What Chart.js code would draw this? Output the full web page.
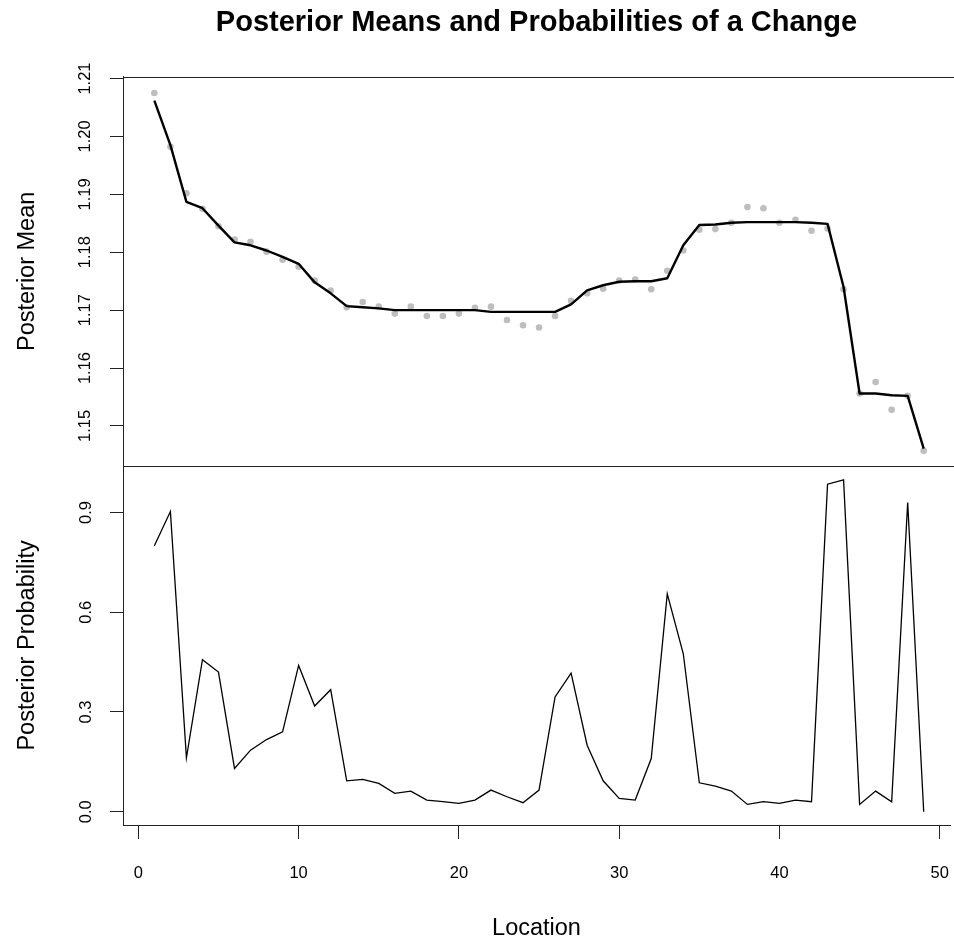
<!DOCTYPE html>
<html>
<head>
<meta charset="utf-8">
<script src="https://cdn.jsdelivr.net/npm/chart.js@4.4.1/dist/chart.umd.min.js"></script>
<style>
    html, body { margin: 0; padding: 0; background: #fff; overflow: hidden; }
    #chart { display: block; width: 954px; height: 941px; }
</style>
</head>
<body>
<canvas id="chart" width="954" height="941"></canvas>
<script>
const locations = [1, 2, 3, 4, 5, 6, 7, 8, 9, 10, 11, 12, 13, 14, 15, 16, 17, 18, 19, 20,
    21, 22, 23, 24, 25, 26, 27, 28, 29, 30, 31, 32, 33, 34, 35, 36, 37, 38, 39, 40,
    41, 42, 43, 44, 45, 46, 47, 48, 49];

// observed data (grey dots)
const observed = [1.2075, 1.1982, 1.1902, 1.1875, 1.1845, 1.1822, 1.1818, 1.1801, 1.1787, 1.1775,
    1.1751, 1.1734, 1.1705, 1.1714, 1.1706, 1.1694, 1.1706, 1.1690, 1.1690, 1.1694,
    1.1704, 1.1706, 1.1683, 1.1674, 1.1670, 1.1690, 1.1716, 1.1729, 1.1737, 1.1751,
    1.1753, 1.1736, 1.1768, 1.1803, 1.1839, 1.1840, 1.1851, 1.1878, 1.1876, 1.1851,
    1.1856, 1.1837, 1.1841, 1.1736, 1.1556, 1.1576, 1.1528, 1.1552, 1.1457];

// posterior means (black line)
const posteriorMean = [1.2062, 1.1985, 1.1887, 1.1876, 1.1846, 1.1817, 1.1812, 1.1803, 1.1792, 1.1780,
    1.1748, 1.1729, 1.1707, 1.1705, 1.1703, 1.1700, 1.1700, 1.1700, 1.1700, 1.1700,
    1.1700, 1.1697, 1.1697, 1.1697, 1.1697, 1.1697, 1.1710, 1.1734, 1.1743, 1.1749,
    1.1750, 1.1750, 1.1755, 1.1812, 1.1847, 1.1848, 1.1851, 1.1852, 1.1852, 1.1852,
    1.1852, 1.1851, 1.1849, 1.1740, 1.1556, 1.1556, 1.1553, 1.1552, 1.1461];

// posterior probability of a change
const posteriorProb = [0.800, 0.903, 0.162, 0.457, 0.420, 0.130, 0.185, 0.217, 0.240, 0.440,
    0.318, 0.367, 0.093, 0.097, 0.085, 0.055, 0.062, 0.035, 0.030, 0.025,
    0.035, 0.065, 0.045, 0.027, 0.065, 0.345, 0.417, 0.200, 0.093, 0.040,
    0.035, 0.160, 0.655, 0.475, 0.087, 0.077, 0.062, 0.022, 0.030, 0.025,
    0.035, 0.030, 0.985, 0.998, 0.022, 0.062, 0.030, 0.930, 0.000];

const xTicks = [0, 10, 20, 30, 40, 50];
const meanTicks = [1.15, 1.16, 1.17, 1.18, 1.19, 1.20, 1.21];
const probTicks = [0.0, 0.3, 0.6, 0.9];

const FONT = '"Liberation Sans", Arial, sans-serif';
Chart.defaults.font.family = FONT;
Chart.defaults.color = "#000";

const pairs = ys => locations.map((x, i) => ({ x: x, y: ys[i] }));

// top edge of the box + line between the two panels
// (right edge of the box lies just past the window, as in the original)
const framePlugin = {
    id: "frame",
    afterDatasetsDraw(chart) {
        const { ctx, chartArea: a, scales } = chart;
        const yTop = Math.round(a.top) + 0.5;
        const yDiv = Math.round(scales.yMean.bottom) + 0.5;
        ctx.save();
        ctx.strokeStyle = "#222";
        ctx.lineWidth = 1;
        ctx.beginPath();
        ctx.moveTo(a.left, yTop);
        ctx.lineTo(a.right + 5, yTop);
        ctx.moveTo(a.left, yDiv);
        ctx.lineTo(a.right + 5, yDiv);
        ctx.stroke();
        ctx.restore();
    }
};

const tickGrid = len => ({
    drawOnChartArea: false,
    drawTicks: true,
    tickLength: len,
    tickColor: "#222",
    tickWidth: 1
});

// fixed axis sizes, no extra room for label overhang
const fixX = s => { s.height = 116; s.paddingLeft = 0; s.paddingRight = 0; };
const fixY = s => { s.width = 123; s.paddingTop = 0; s.paddingBottom = 0; };

new Chart(document.getElementById("chart"), {
    type: "line",
    data: {
        datasets: [
            {
                label: "Posterior Mean",
                data: pairs(posteriorMean),
                yAxisID: "yMean",
                borderColor: "#000",
                borderWidth: 2.4,
                borderJoinStyle: "round",
                pointRadius: 0,
                tension: 0
            },
            {
                label: "Data",
                data: pairs(observed),
                yAxisID: "yMean",
                showLine: false,
                pointRadius: 3.3,
                pointBorderWidth: 0,
                pointBackgroundColor: "#BEBEBE",
                pointBorderColor: "#BEBEBE"
            },
            {
                label: "Posterior Probability",
                data: pairs(posteriorProb),
                yAxisID: "yProb",
                borderColor: "#000",
                borderWidth: 1.3,
                pointRadius: 0,
                tension: 0
            }
        ]
    },
    options: {
        responsive: false,
        animation: false,
        devicePixelRatio: 1,
        layout: { padding: 0 },
        plugins: {
            legend: { display: false },
            tooltip: { enabled: false },
            title: {
                display: true,
                text: "Posterior Means and Probabilities of a Change",
                fullSize: false,
                color: "#000",
                font: { size: 29, weight: "bold", family: FONT, lineHeight: 1.2 },
                padding: { top: 6, bottom: 36 }
            }
        },
        scales: {
            x: {
                type: "linear",
                position: "bottom",
                min: -0.957,
                max: 50.64,
                afterFit: fixX,
                afterBuildTicks: s => { s.ticks = xTicks.map(v => ({ value: v })); },
                ticks: {
                    autoSkip: false,
                    maxRotation: 0,
                    padding: 25,
                    font: { size: 16.5 },
                    callback: v => String(v)
                },
                grid: tickGrid(14),
                border: { display: true, color: "#222", width: 1 },
                title: {
                    display: true,
                    text: "Location",
                    font: { size: 23.5, lineHeight: 1 },
                    padding: { top: 0, bottom: 1 }
                }
            },
            yProb: {
                type: "linear",
                position: "left",
                stack: "panels",
                stackWeight: 359,
                min: -0.04,
                max: 1.04,
                afterFit: fixY,
                afterBuildTicks: s => { s.ticks = probTicks.map(v => ({ value: v })); },
                ticks: {
                    autoSkip: false,
                    minRotation: 90,
                    maxRotation: 90,
                    crossAlign: "center",
                    padding: 12.5,
                    font: { size: 16.5 },
                    callback: v => v.toFixed(1)
                },
                grid: tickGrid(13),
                border: { display: true, color: "#222", width: 1 },
                title: {
                    display: true,
                    text: "Posterior Probability",
                    font: { size: 23.5, lineHeight: 1 },
                    padding: { top: 15.5, bottom: 0 }
                }
            },
            yMean: {
                type: "linear",
                position: "left",
                stack: "panels",
                stackWeight: 389,
                min: 1.1431,
                max: 1.2103,
                afterFit: fixY,
                afterBuildTicks: s => { s.ticks = meanTicks.map(v => ({ value: v })); },
                ticks: {
                    autoSkip: false,
                    minRotation: 90,
                    maxRotation: 90,
                    crossAlign: "center",
                    padding: 8,
                    font: { size: 16.5 },
                    callback: v => v.toFixed(2)
                },
                grid: tickGrid(13),
                border: { display: true, color: "#222", width: 1 },
                title: {
                    display: true,
                    text: "Posterior Mean",
                    font: { size: 23.5, lineHeight: 1 },
                    padding: { top: 15.5, bottom: 0 }
                }
            }
        }
    },
    plugins: [framePlugin]
});
</script>
</body>
</html>
